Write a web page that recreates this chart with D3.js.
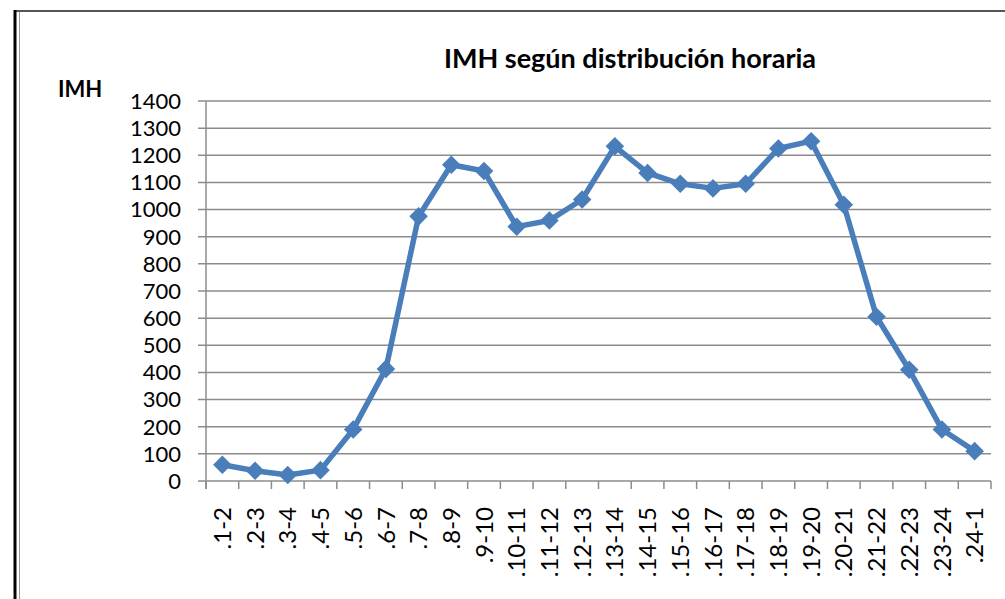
<!DOCTYPE html>
<html>
<head>
<meta charset="utf-8">
<script src="https://cdn.jsdelivr.net/npm/d3@7"></script>
<style>
  body { margin: 0; background: #fff; }
  text { font-family: Lato, "Open Sans", sans-serif; fill: #000; }
</style>
</head>
<body>
<svg id="chart" width="1005" height="599"></svg>
<script>
// categories and values
const hours = [".1-2", ".2-3", ".3-4", ".4-5", ".5-6", ".6-7", ".7-8", ".8-9", ".9-10", ".10-11",
  ".11-12", ".12-13", ".13-14", ".14-15", ".15-16", ".16-17", ".17-18", ".18-19", ".19-20",
  ".20-21", ".21-22", ".22-23", ".23-24", ".24-1"];
const imh = [60, 38, 22, 40, 190, 413, 975, 1165, 1142, 937, 960, 1037, 1233, 1135, 1095,
  1078, 1095, 1225, 1252, 1018, 605, 410, 190, 110];
const yTicks = d3.range(0, 1401, 100);

const svg = d3.select("#chart");
const margin = { left: 206, right: 991, top: 101, bottom: 481 };

// frame
svg.append("line").attr("x1", 14).attr("x2", 1005).attr("y1", 11).attr("y2", 11)
  .attr("stroke", "#555").attr("stroke-width", 2);
svg.append("line").attr("x1", 15).attr("x2", 15).attr("y1", 10).attr("y2", 599)
  .attr("stroke", "#000").attr("stroke-width", 3);
svg.append("line").attr("x1", 19.5).attr("x2", 19.5).attr("y1", 12).attr("y2", 599)
  .attr("stroke", "#999").attr("stroke-width", 1);

// scales
const x = d3.scaleBand().domain(hours).range([margin.left, margin.right]);
const y = d3.scaleLinear().domain([0, 1400]).range([margin.bottom, margin.top]);

// gridlines
svg.append("g")
  .selectAll("line")
  .data(yTicks)
  .enter().append("line")
  .attr("x1", margin.left - 8).attr("x2", margin.right)
  .attr("y1", d => y(d)).attr("y2", d => y(d))
  .attr("stroke", "#8c8c8c").attr("stroke-width", 1.5);

// y axis line
svg.append("line")
  .attr("x1", margin.left).attr("x2", margin.left)
  .attr("y1", margin.top).attr("y2", margin.bottom + 8)
  .attr("stroke", "#8c8c8c").attr("stroke-width", 1.5);

// x ticks at category boundaries
const bounds = hours.map(h => x(h)).concat([margin.right]);
svg.append("g")
  .selectAll("line")
  .data(bounds)
  .enter().append("line")
  .attr("x1", d => d).attr("x2", d => d)
  .attr("y1", margin.bottom).attr("y2", margin.bottom + 8)
  .attr("stroke", "#8c8c8c").attr("stroke-width", 1.5);

// y labels
svg.append("g")
  .selectAll("text")
  .data(yTicks)
  .enter().append("text")
  .attr("x", 181)
  .attr("y", d => y(d))
  .attr("dy", "0.36em")
  .attr("text-anchor", "end")
  .style("font-size", "22px")
  .text(d => d);

// x labels, rotated
svg.append("g")
  .selectAll("text")
  .data(hours)
  .enter().append("text")
  .attr("transform", d => `translate(${x(d) + x.bandwidth() / 2},507) rotate(-90)`)
  .attr("dy", "0.36em")
  .attr("text-anchor", "end")
  .style("font-size", "24px")
  .text(d => d);

// line and markers
const line = d3.line()
  .x((d, i) => x(hours[i]) + x.bandwidth() / 2)
  .y(d => y(d));

svg.append("path")
  .datum(imh)
  .attr("d", line)
  .attr("fill", "none")
  .attr("stroke", "#4a7ebb")
  .attr("stroke-width", 5.5)
  .attr("stroke-linejoin", "round");

svg.append("g")
  .selectAll("path")
  .data(imh)
  .enter().append("path")
  .attr("d", d3.symbol().type(d3.symbolDiamond2).size(220))
  .attr("transform", (d, i) => `translate(${x(hours[i]) + x.bandwidth() / 2},${y(d)})`)
  .attr("fill", "#4a7ebb");

// titles
svg.append("text")
  .attr("x", 630).attr("y", 68)
  .attr("text-anchor", "middle")
  .style("font-size", "27px").style("font-weight", "bold")
  .text("IMH según distribución horaria");

svg.append("text")
  .attr("x", 58).attr("y", 97)
  .style("font-size", "22px").style("font-weight", "bold")
  .text("IMH");
</script>
</body>
</html>
